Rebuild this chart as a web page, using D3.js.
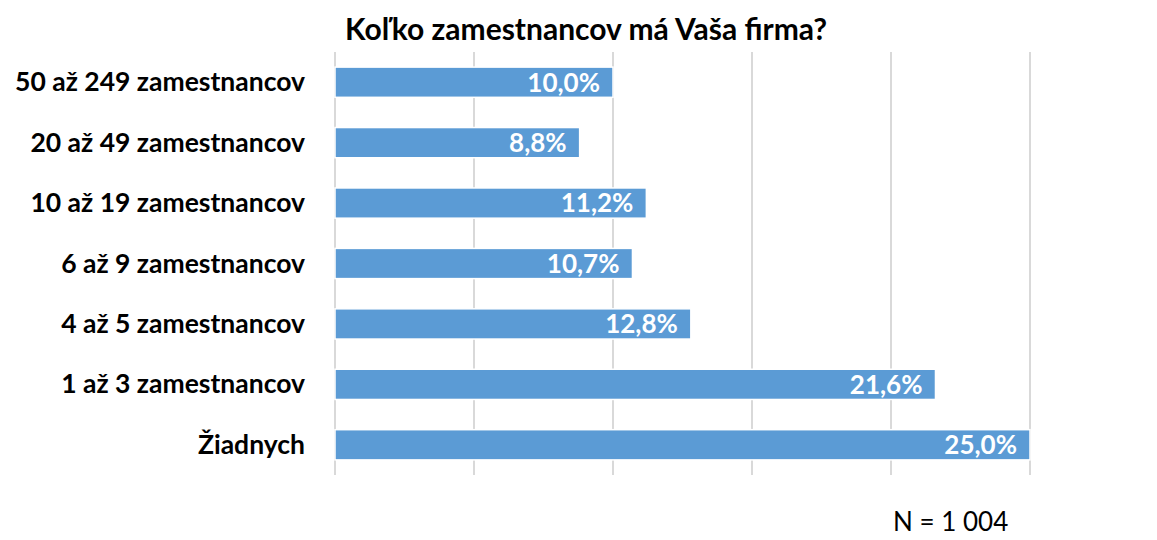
<!DOCTYPE html>
<html>
<head>
<meta charset="utf-8">
<script src="https://cdn.jsdelivr.net/npm/d3@7"></script>
<style>
  body { margin: 0; background: #fff; }
  svg { display: block; font-family: Lato, "Open Sans", sans-serif; }
</style>
</head>
<body>
<div class="chart"></div>
<script>
const width = 1157;
const height = 540;
const margin = { top: 52, right: 127, bottom: 65, left: 335 };

const categories = [
  "50 až 249 zamestnancov",
  "20 až 49 zamestnancov",
  "10 až 19 zamestnancov",
  "6 až 9 zamestnancov",
  "4 až 5 zamestnancov",
  "1 až 3 zamestnancov",
  "Žiadnych"
];
const values = [10.0, 8.8, 11.2, 10.7, 12.8, 21.6, 25.0];
const ticks = [0, 5, 10, 15, 20, 25];
const title = "Koľko zamestnancov má Vaša firma?";
const note = "N = 1 004";

const data = categories.map((c, i) => ({ category: c, value: values[i] }));

const svg = d3.select(".chart")
  .append("svg")
  .attr("width", width)
  .attr("height", height);

const x = d3.scaleLinear()
  .domain([0, 25])
  .range([margin.left, width - margin.right]);

const y = d3.scaleBand()
  .domain(categories)
  .range([margin.top, height - margin.bottom])
  .paddingInner(0.5)
  .paddingOuter(0.25);

// gridlines
svg.append("g")
  .selectAll("line")
  .data(ticks)
  .enter()
  .append("line")
  .attr("x1", d => x(d))
  .attr("x2", d => x(d))
  .attr("y1", margin.top)
  .attr("y2", height - margin.bottom)
  .attr("stroke", "#d9d9d9")
  .attr("stroke-width", 2);

// bars
svg.append("g")
  .selectAll("rect")
  .data(data)
  .enter()
  .append("rect")
  .attr("x", x(0))
  .attr("y", d => y(d.category))
  .attr("width", d => x(d.value) - x(0))
  .attr("height", y.bandwidth())
  .attr("fill", "#5b9bd5")
  .attr("stroke", "#fff")
  .attr("stroke-width", 1.5);

// value labels
svg.append("g")
  .selectAll("text")
  .data(data)
  .enter()
  .append("text")
  .attr("x", d => x(d.value) - 13)
  .attr("y", d => y(d.category) + y.bandwidth() / 2)
  .attr("dy", "0.36em")
  .attr("text-anchor", "end")
  .attr("fill", "#fff")
  .attr("font-weight", "bold")
  .attr("font-size", 26)
  .text(d => d.value.toFixed(1).replace(".", ",") + "%");

// category labels
svg.append("g")
  .selectAll("text")
  .data(data)
  .enter()
  .append("text")
  .attr("x", 305)
  .attr("y", d => y(d.category) + y.bandwidth() / 2)
  .attr("dy", "0.34em")
  .attr("text-anchor", "end")
  .attr("fill", "#000")
  .attr("font-weight", "bold")
  .attr("font-size", 26.5)
  .text(d => d.category);

svg.append("text")
  .attr("x", 586)
  .attr("y", 40)
  .attr("text-anchor", "middle")
  .attr("font-weight", "bold")
  .attr("font-size", 30)
  .text(title);

svg.append("text")
  .attr("x", 893)
  .attr("y", 531)
  .attr("font-size", 26)
  .text(note);
</script>
</body>
</html>
